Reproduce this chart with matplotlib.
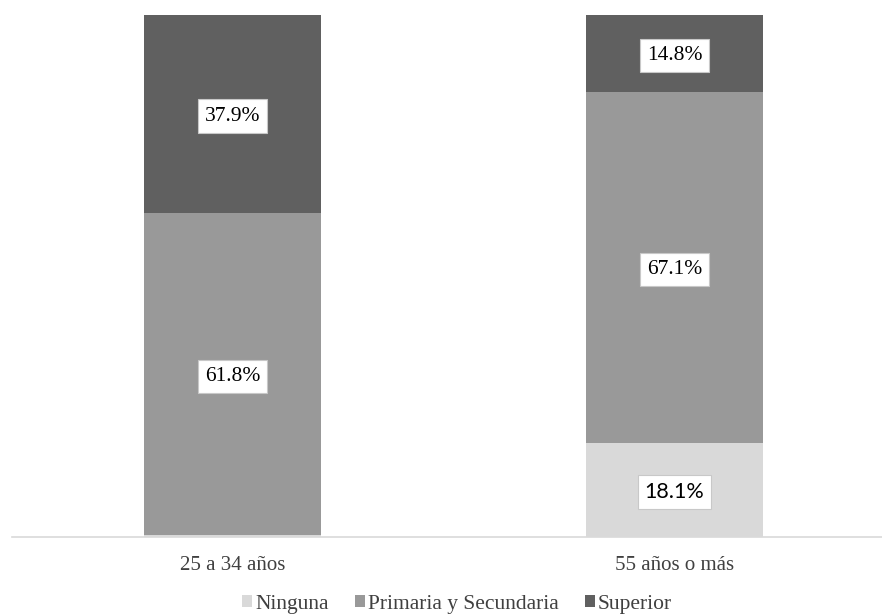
import matplotlib
matplotlib.use("Agg")
import matplotlib.pyplot as plt
import numpy as np

categories = ["25 a 34 años", "55 años o más"]
series_names = ["Ninguna", "Primaria y Secundaria", "Superior"]
ninguna = [0.3, 18.1]
primaria = [61.8, 67.1]
superior = [37.9, 14.8]
colors = ["#d9d9d9", "#999999", "#606060"]

fig = plt.figure(figsize=(8.82, 6.15), dpi=100)
W, H = 882, 615
ax = fig.add_axes([11.5 / W, (H - 537) / H, 884 / W, 522 / H])

x = np.arange(len(categories))
width = 0.4
data = [ninguna, primaria, superior]
bottom = np.zeros(len(categories))
handles = []
for name, vals, col in zip(series_names, data, colors):
    b = ax.bar(x, vals, width, bottom=bottom, color=col, label=name, zorder=2)
    handles.append(b)
    for xi, v, bt in zip(x, vals, bottom):
        if v >= 5:
            if name == "Ninguna":
                fam = ["Lato", "DejaVu Sans"]
            else:
                fam = ["Liberation Serif", "DejaVu Serif"]
            ax.text(xi, bt + v / 2 - 0.4, f"{v:.1f}%", ha="center", va="center",
                    fontsize=15.5, family=fam, color="black", zorder=3,
                    bbox=dict(boxstyle="square,pad=0.33", fc="white",
                              ec="#c8c8c8", lw=0.8))
    bottom = bottom + np.array(vals)

ax.set_xlim(-0.5, 1.5)
ax.set_ylim(0, 100)
ax.set_yticks([])
ax.set_xticks(x)
ax.set_xticklabels(categories, family=["Liberation Serif", "DejaVu Serif"],
                   fontsize=15, color="#404040")
ax.tick_params(axis="x", length=0, pad=14)
for s in ["top", "left", "right"]:
    ax.spines[s].set_visible(False)
ax.spines["bottom"].set_color("#d9d9d9")
ax.spines["bottom"].set_linewidth(1.2)

leg = fig.legend(handles=handles, labels=series_names, loc="center",
                 bbox_to_anchor=(457 / W, (H - 604) / H), ncol=3, frameon=False,
                 prop={"family": ["Liberation Serif", "DejaVu Serif"], "size": 15.5},
                 handlelength=0.47, handleheight=0.47, handletextpad=0.15,
                 columnspacing=1.2, labelcolor="#404040")

fig.savefig("out.png", dpi=100, facecolor="white")
